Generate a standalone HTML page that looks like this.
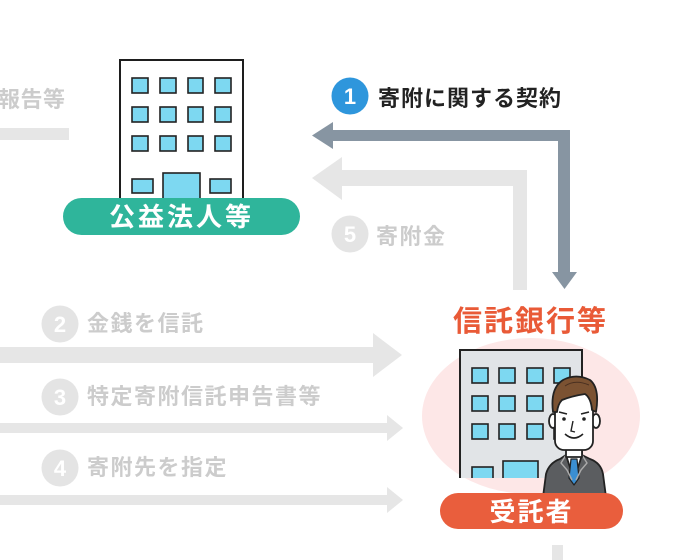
<!DOCTYPE html>
<html><head><meta charset="utf-8">
<style>
html,body{margin:0;padding:0;background:#fff;}
svg{display:block;}
text{font-family:"Liberation Sans","Noto Sans CJK JP",sans-serif;font-weight:bold;}
</style></head>
<body>
<svg width="700" height="560" viewBox="0 0 700 560" xmlns="http://www.w3.org/2000/svg">
<defs>
<clipPath id="b2clip"><rect x="450" y="340" width="200" height="138"/></clipPath>
</defs>
<rect width="700" height="560" fill="#fff"/>

<!-- top-left label and bar -->
<text x="-2" y="107" font-size="22" fill="#cccccc" letter-spacing="0.5">報告等</text>
<rect x="0" y="128" width="69" height="12" fill="#e6e6e6"/>

<!-- Building 1 -->
<rect x="120" y="60" width="123" height="150" fill="#fff" stroke="#1e1e1e" stroke-width="2"/>
<g fill="#7dd8f1" stroke="#222" stroke-width="1.6">
<rect x="132" y="78" width="16" height="15"/><rect x="160" y="78" width="16" height="15"/><rect x="188" y="78" width="15" height="15"/><rect x="215" y="78" width="16" height="15"/>
<rect x="132" y="107" width="16" height="15"/><rect x="160" y="107" width="16" height="15"/><rect x="188" y="107" width="15" height="15"/><rect x="215" y="107" width="16" height="15"/>
<rect x="132" y="136" width="16" height="15"/><rect x="160" y="136" width="16" height="15"/><rect x="188" y="136" width="15" height="15"/><rect x="215" y="136" width="16" height="15"/>
<rect x="132" y="179" width="21" height="14"/><rect x="210" y="179" width="21" height="14"/>
<rect x="163" y="173" width="37" height="32"/>
</g>
<rect x="63" y="198" width="237" height="37" rx="18.5" fill="#2fb59b"/>
<text x="181.5" y="226" font-size="26" fill="#fff" text-anchor="middle" letter-spacing="3">公益法人等</text>

<!-- Step 1 -->
<circle cx="350" cy="96" r="18.5" fill="#2e96dc"/>
<text x="350" y="104" font-size="22" fill="#fff" text-anchor="middle">1</text>
<text x="378" y="106" font-size="22" fill="#222" letter-spacing="1">寄附に関する契約</text>

<!-- Light gray arrow 5 -->
<rect x="342" y="170" width="185" height="16" fill="#e6e6e6"/>
<rect x="513" y="170" width="14" height="120" fill="#e6e6e6"/>
<polygon points="342,157 312,178 342,200" fill="#e6e6e6"/>

<!-- Dark arrow 1 -->
<rect x="332" y="130" width="238" height="11" fill="#8795a2"/>
<rect x="558" y="130" width="12" height="143" fill="#8795a2"/>
<polygon points="333,122 312,135.5 333,149" fill="#8795a2"/>
<polygon points="552,272 577,272 564.5,289" fill="#8795a2"/>

<!-- Step 5 -->
<circle cx="350" cy="234" r="18.5" fill="#e4e4e4"/>
<text x="350" y="242" font-size="22" fill="#fff" text-anchor="middle">5</text>
<text x="376" y="244" font-size="22" fill="#cccccc" letter-spacing="1.5">寄附金</text>

<!-- Steps 2-4 -->
<circle cx="60" cy="324" r="18.5" fill="#e4e4e4"/>
<text x="60" y="332" font-size="22" fill="#fff" text-anchor="middle">2</text>
<text x="87" y="331" font-size="22" fill="#cccccc" letter-spacing="1.5">金銭を信託</text>
<rect x="0" y="347" width="374" height="16" fill="#e6e6e6"/>
<polygon points="373,333 402,355 373,377" fill="#e6e6e6"/>

<circle cx="60" cy="397" r="18.5" fill="#e4e4e4"/>
<text x="60" y="405" font-size="22" fill="#fff" text-anchor="middle">3</text>
<text x="87" y="404" font-size="22" fill="#cccccc" letter-spacing="1.5">特定寄附信託申告書等</text>
<rect x="0" y="423" width="388" height="10" fill="#e6e6e6"/>
<polygon points="387,415 403,428 387,441" fill="#e6e6e6"/>

<circle cx="60" cy="468" r="18.5" fill="#e4e4e4"/>
<text x="60" y="476" font-size="22" fill="#fff" text-anchor="middle">4</text>
<text x="87" y="475" font-size="22" fill="#cccccc" letter-spacing="1.5">寄附先を指定</text>
<rect x="0" y="495" width="388" height="10" fill="#e6e6e6"/>
<polygon points="387,487 403,500 387,513" fill="#e6e6e6"/>

<!-- Trust bank -->
<text x="530.5" y="331" font-size="29" fill="#e95a37" text-anchor="middle" letter-spacing="2">信託銀行等</text>
<ellipse cx="531" cy="416" rx="109" ry="78" fill="#fde7e7"/>

<g clip-path="url(#b2clip)">
<rect x="460" y="350" width="122" height="140" fill="#e1e4e7" stroke="#222" stroke-width="2"/>
<g fill="#7dd8f1" stroke="#222" stroke-width="1.6">
<rect x="472" y="368" width="16" height="15"/><rect x="499" y="368" width="16" height="15"/><rect x="527" y="368" width="16" height="15"/><rect x="554" y="368" width="16" height="15"/>
<rect x="472" y="396" width="16" height="15"/><rect x="499" y="396" width="16" height="15"/><rect x="527" y="396" width="16" height="15"/><rect x="554" y="396" width="16" height="15"/>
<rect x="472" y="424" width="16" height="15"/><rect x="499" y="424" width="16" height="15"/><rect x="527" y="424" width="16" height="15"/><rect x="554" y="424" width="16" height="15"/>
<rect x="472" y="467" width="21" height="20"/>
<rect x="503" y="461" width="35" height="30"/>
</g>
</g>

<!-- Person -->
<g stroke="#222" stroke-width="1.8" stroke-linejoin="round">
<path d="M543,497 L546,474 Q549,463 560,459 L566,455 L582,455 L590,459 Q601,463 603,474 L606,497 Z" fill="#5b5d60"/>
<path d="M566,455 L574,480 L582,455 Z" fill="#fff"/>
<path d="M571,459 L577,459 L579,478 L574,485 L569,478 Z" fill="#3b8fd2" stroke-width="1.2"/>
<path d="M566,455 L561,463 L567,470 L572,480" fill="none" stroke="#aaa" stroke-width="1.4"/>
<path d="M582,455 L587,463 L581,470 L576,480" fill="none" stroke="#aaa" stroke-width="1.4"/>
<rect x="566" y="444" width="16" height="13" fill="#fff"/>
<ellipse cx="553" cy="421" rx="4" ry="7" fill="#fff"/>
<ellipse cx="596" cy="421" rx="4" ry="7" fill="#fff"/>
<rect x="555" y="386" width="38" height="64" rx="9" fill="#fff"/>
<path d="M553,412 Q550,388 563,380 Q576,373 590,380 Q600,388 596,412 L592,410 Q591,398 585,394 Q572,396 562,400 Q558,404 557,412 Z" fill="#7b5232"/>
</g>
<path d="M565,386 Q575,379 589,385" fill="none" stroke="#4a3020" stroke-width="1"/>
<g fill="#222">
<circle cx="564" cy="419" r="1.8"/><circle cx="584" cy="419" r="1.8"/>
</g>
<path d="M559,412 L567,414 M581,414 L589,412" stroke="#222" stroke-width="1.6" fill="none"/>
<path d="M573,421 L571,431 L575,432" stroke="#222" stroke-width="1.4" fill="none"/>
<path d="M565,434 Q574,442 583,434" stroke="#222" stroke-width="1.6" fill="none"/>

<!-- 受託者 pill -->
<rect x="440" y="493" width="183" height="36" rx="18" fill="#e95e3d"/>
<text x="531.5" y="521" font-size="26" fill="#fff" text-anchor="middle" letter-spacing="2">受託者</text>

<!-- bottom bar -->
<rect x="552" y="545" width="11" height="15" fill="#e6e6e6"/>
</svg>
</body></html>
